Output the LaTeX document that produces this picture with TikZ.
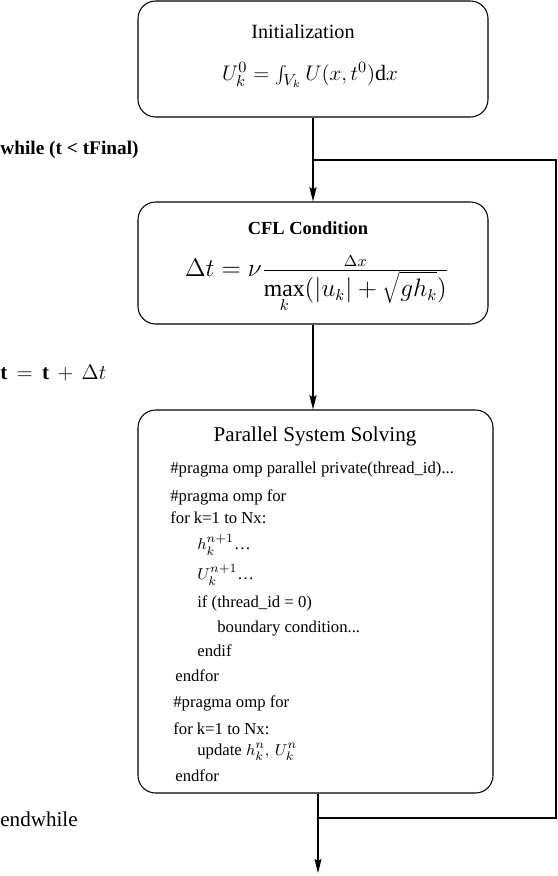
\documentclass[tikz,border=0pt]{standalone}
\usepackage{fontspec}
\setmainfont{Liberation Serif}
\usetikzlibrary{arrows.meta}

\tikzset{
    stage/.style={draw, rounded corners=10, line width=0.6pt, inner sep=0pt},
    flow/.style={line width=0.9pt, -{Stealth[length=8pt, width=4pt, inset=1pt]}},
    loopline/.style={line width=1.2pt},
    codeline/.style={anchor=west, inner sep=0pt, font=\fontsize{9.5}{11}\selectfont},
    looplabel/.style={anchor=west, inner sep=0pt, font=\fontsize{12}{14}\selectfont},
    formula/.style={inner sep=0pt, font=\fontsize{13.5}{16}\selectfont},
}

\begin{document}
\begin{tikzpicture}[x=0.02cm, y=-0.02cm]
    \useasboundingbox (0,0) rectangle (558,876);

    \node[stage, minimum width=350*0.02cm, minimum height=116*0.02cm] (init) at (313,59) {};
    \node[font=\fontsize{11.5}{13}\selectfont] (inittitle) at (303,32) {Initialization};
    \node[formula, font=\fontsize{12.5}{15}\selectfont] (initeq) at (310,75) {$U_k^0 = \int_{V_k} U(x,t^0)\mathrm{d}x$};

    \node[stage, minimum width=350*0.02cm, minimum height=122*0.02cm] (cfl) at (313,263) {};
    \node[font=\bfseries\fontsize{10.5}{12}\selectfont] (cfltitle) at (308,228) {CFL Condition};
    \node[formula] (cfleq) at (317,284)
        {$\Delta t = \nu\frac{\Delta x}{\displaystyle\max_k(|u_k| + \sqrt{gh_k})}$};

    \node[stage, minimum width=355*0.02cm, minimum height=383*0.02cm] (solve) at (315.5,601.5) {};
    \node[font=\fontsize{12}{14}\selectfont] (solvetitle) at (315,436) {Parallel System Solving};

    \foreach \x/\y/\txt [count=\i] in {
        170/470/{\#pragma omp parallel private(thread\_id)...},
        170/497/{\#pragma omp for},
        170/518/{for k=1 to Nx:},
        197/545/{$h_k^{n+1}$\dots},
        197/575/{$U_k^{n+1}$\dots},
        197/603/{if (thread\_id = 0)},
        217/629/{boundary condition...},
        197/651/{endif},
        175/676/{endfor},
        173/703/{\#pragma omp for},
        173/729/{for k=1 to Nx:},
        197/752/{$\mathrm{update}\ h_k^n,\, U_k^n$},
        175/776/{endfor}}
        \node[codeline] (line\i) at (\x,\y) {\txt};

    \node[looplabel, font=\bfseries\fontsize{11}{13}\selectfont] (whilelabel) at (0,150) {while (t < tFinal)};
    \node[looplabel] (steplabel) at (0,373) {$\mathbf{t} \,=\, \mathbf{t} \,+\, \Delta t$};
    \node[looplabel] (endlabel) at (0,819) {endwhile};

    \coordinate (looptop) at (313,160);
    \coordinate (looptopright) at (556,160);
    \coordinate (loopbotright) at (556,818);
    \coordinate (loopbot) at (318,818);
    \coordinate (exit) at (318,873);

    \draw[flow] (init.south) -- (cfl.north);
    \draw[loopline] (looptop) -- (looptopright) -- (loopbotright) -- (loopbot);
    \draw[flow] (cfl.south) -- (cfl.south |- solve.north);
    \draw[flow, line width=0.6pt] (loopbot |- solve.south) -- (exit);
\end{tikzpicture}
\end{document}
